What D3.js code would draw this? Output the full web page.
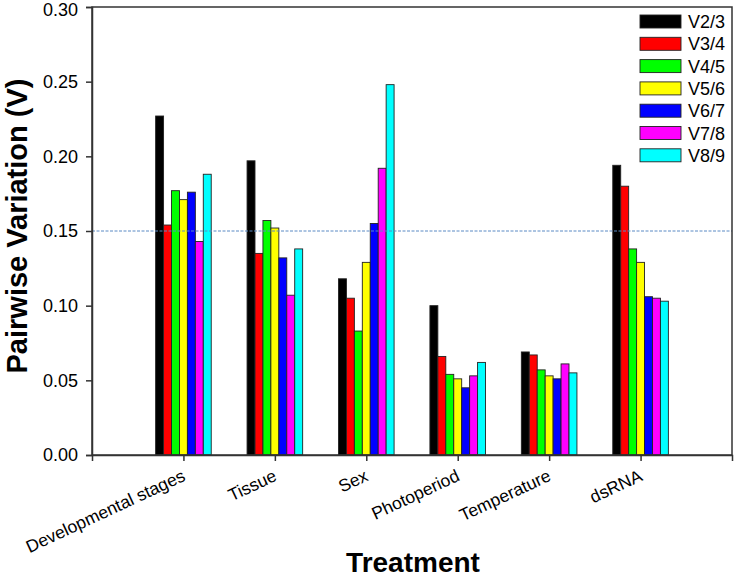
<!DOCTYPE html>
<html><head><meta charset="utf-8">
<script src="https://cdn.jsdelivr.net/npm/d3@7"></script>
<style>body{margin:0;background:#fff}svg{display:block}text{font-family:"Liberation Sans",Arial,sans-serif}</style>
</head><body>
<svg id="c" width="734" height="579"></svg>
<script>
const categories = ["Developmental stages","Tissue","Sex","Photoperiod","Temperature","dsRNA"];
const seriesNames = ["V2/3","V3/4","V4/5","V5/6","V6/7","V7/8","V8/9"];
const seriesColors = ["#000000","#ff0000","#00ff00","#ffff00","#0000ff","#ff00ff","#00ffff"];
// values per series, in category order
const V23 = [0.227,0.197,0.118,0.100,0.069,0.194];
const V34 = [0.154,0.135,0.105,0.066,0.067,0.180];
const V45 = [0.177,0.157,0.083,0.054,0.057,0.138];
const V56 = [0.171,0.152,0.129,0.051,0.053,0.129];
const V67 = [0.176,0.132,0.155,0.045,0.051,0.106];
const V78 = [0.143,0.107,0.192,0.053,0.061,0.105];
const V89 = [0.188,0.138,0.248,0.062,0.055,0.103];
const yTicks = [0,0.05,0.10,0.15,0.20,0.25,0.30];
const threshold = 0.15;

const seriesValues = [V23,V34,V45,V56,V67,V78,V89];
const svg = d3.select("#c");
const L=92, R=732, T=7, B=455;
const x = d3.scalePoint().domain(categories).range([L,R]).padding(1);
const inner = d3.scaleBand().domain(seriesNames).range([-27.8,27.8]);
const y = d3.scaleLinear().domain([0,0.30]).range([B,T]);

// bars
const data = [];
categories.forEach((c,ci)=>seriesNames.forEach((s,si)=>data.push({c,s,si,v:seriesValues[si][ci]})));
svg.append("g").selectAll("rect").data(data).join("rect")
  .attr("x",d=>x(d.c)+inner(d.s))
  .attr("width",inner.bandwidth())
  .attr("y",d=>y(d.v))
  .attr("height",d=>y(0)-y(d.v))
  .attr("fill",d=>seriesColors[d.si])
  .attr("stroke","#222").attr("stroke-width",0.9);

// threshold line
svg.append("line").attr("x1",L).attr("x2",R).attr("y1",y(threshold)).attr("y2",y(threshold))
  .attr("stroke","#5b8ac4").attr("stroke-width",1).attr("stroke-dasharray","3,1.5");

// frame
svg.append("rect").attr("x",L).attr("y",T).attr("width",R-L).attr("height",B-T)
  .attr("fill","none").attr("stroke","#333").attr("stroke-width",1.5);

// y axis
const ya = svg.append("g").attr("transform",`translate(${L},0)`)
  .call(d3.axisLeft(y).tickValues(yTicks).tickFormat(d3.format(".2f")).tickSize(6).tickPadding(8));
ya.select(".domain").attr("stroke","#333").attr("stroke-width",1.5);
ya.selectAll(".tick line").attr("stroke","#333").attr("stroke-width",1.5);
ya.selectAll(".tick text").attr("font-size",18).attr("fill","#000").attr("font-family","Liberation Sans, Arial, sans-serif")
  .attr("y",d=>d===0.30?2.5:0);

// x axis
const xa = svg.append("g").attr("transform",`translate(0,${B})`)
  .call(d3.axisBottom(x).tickSize(6).tickFormat(""));
xa.select(".domain").attr("stroke","#333").attr("stroke-width",1.5);
xa.selectAll(".tick line").attr("stroke","#333").attr("stroke-width",1.5);
svg.append("g").selectAll("text").data(categories).join("text")
  .attr("transform",d=>`translate(${x(d)+3},${B+25}) rotate(-25)`)
  .attr("text-anchor","end").attr("font-size",17.5).attr("fill","#000").text(d=>d);

// axis titles
svg.append("text").attr("transform",`translate(27,${(T+B)/2-5}) rotate(-90)`)
  .attr("text-anchor","middle").attr("font-size",29).attr("font-weight","bold").text("Pairwise Variation (V)");
svg.append("text").attr("x",413).attr("y",572).attr("text-anchor","middle")
  .attr("font-size",28).attr("font-weight","bold").text("Treatment");

// legend
const ly = d3.scaleLinear().domain([0,1]).range([15,37.3]);
const lg = svg.append("g").selectAll("g").data(seriesNames).join("g")
  .attr("transform",(d,i)=>`translate(640,${ly(i)})`);
lg.append("rect").attr("width",41).attr("height",13)
  .attr("fill",(d,i)=>seriesColors[i]).attr("stroke","#222").attr("stroke-width",0.9);
lg.append("text").attr("x",48).attr("y",13).attr("font-size",18).text(d=>d);
</script>
</body></html>
